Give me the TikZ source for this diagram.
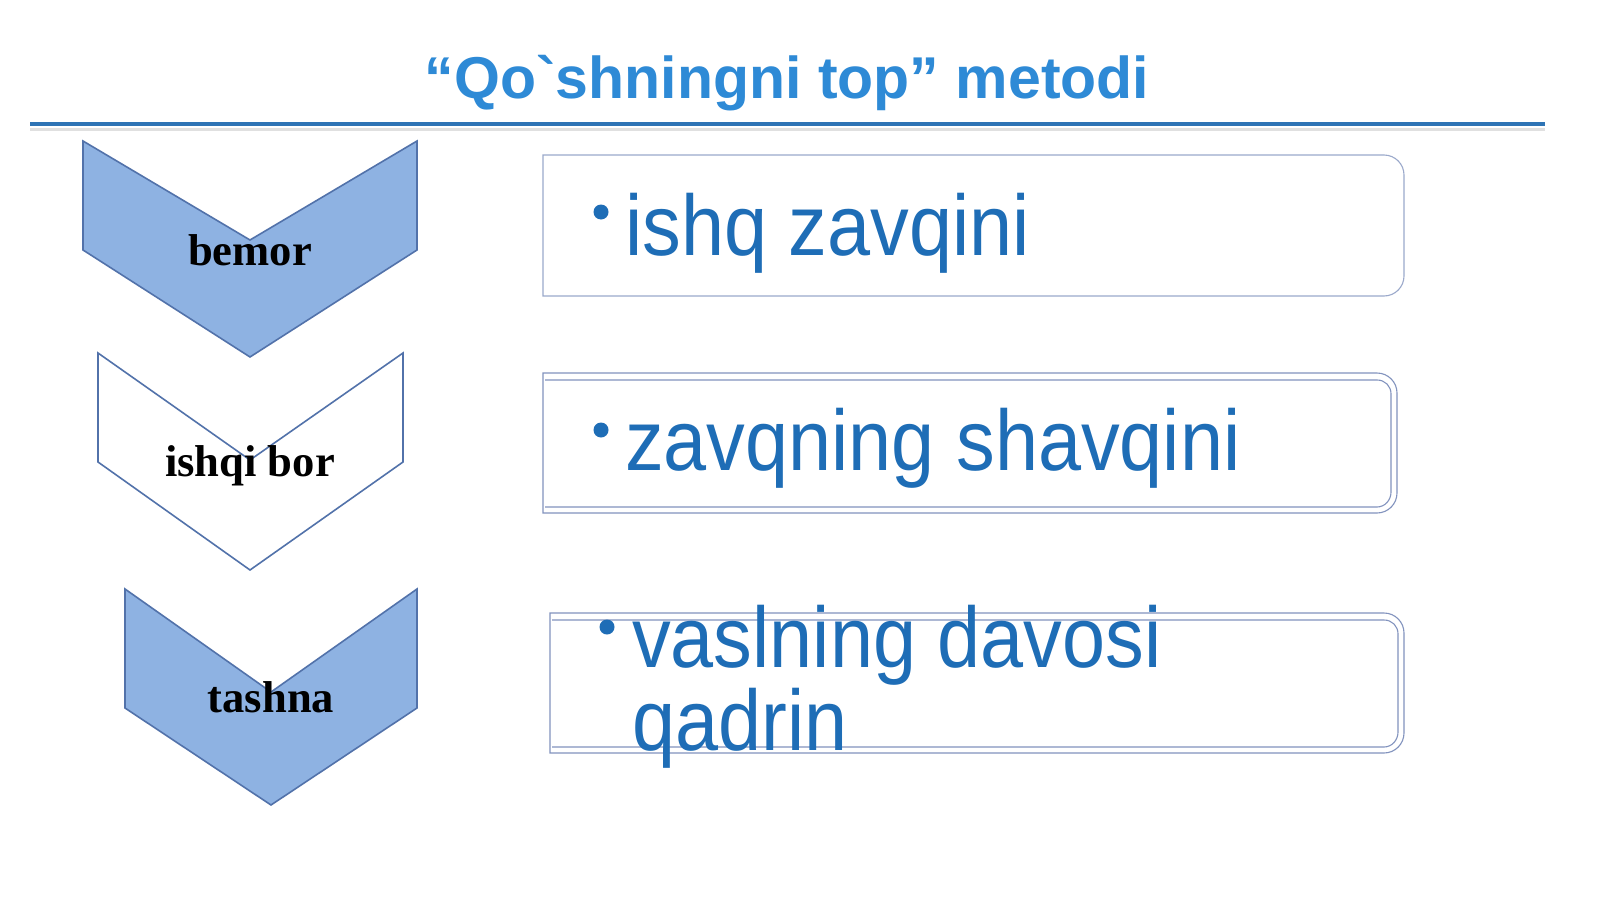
\documentclass[tikz,border=0pt]{standalone}
\usepackage{fontspec}
\setmainfont{Liberation Serif}
\newfontfamily\titlefont{Liberation Sans}
\newfontfamily\boxfont[FakeStretch=0.9]{Liberation Sans}
\definecolor{titleblue}{HTML}{2E8AD6}
\definecolor{rulecol}{HTML}{2E74B5}
\definecolor{chevfill}{HTML}{8EB2E2}
\definecolor{chevline}{HTML}{5272AA}
\definecolor{boxline}{HTML}{8293BE}
\definecolor{boxtext}{HTML}{1E6DB6}
\begin{document}
\begin{tikzpicture}[x=1pt,y=-1pt,
  chevfilled/.style={fill=chevfill,draw=chevline,line width=1.6pt,line join=miter},
  chevempty/.style={fill=white,draw=chevline,line width=1.6pt,line join=miter},
  chevlabel/.style={font=\fontsize{44.6}{50}\selectfont\bfseries,text=black,anchor=base,inner sep=0pt},
  boxframe/.style={draw=boxline,line width=1.1pt},
  boxlabel/.style={font=\boxfont\fontsize{86}{83}\selectfont,text=boxtext,anchor=base west,inner sep=0pt},
  bulletdot/.style={circle,fill=boxtext,minimum size=15pt,inner sep=0pt}]
\useasboundingbox (0,0) rectangle (1600,899);
\fill[white] (0,0) rectangle (1600,899);
% title
\node[font=\titlefont\fontsize{59}{65}\selectfont\bfseries,text=titleblue,anchor=base,inner sep=0pt] (title) at (787,98) {“Qo`shningni top” metodi};
\coordinate (ruleL) at (30,124);
\coordinate (ruleR) at (1545,124);
\draw[black!12,line width=3pt] ([yshift=-5pt]ruleL) -- ([yshift=-5pt]ruleR);
\draw[rulecol,line width=4pt] (ruleL) -- (ruleR);
% chevrons
\draw[chevfilled] (83,141) -- (250,240) -- (417,141) -- (417,250) -- (250,357) -- (83,250) -- cycle;
\draw[chevempty] (98,353) -- (250,460) -- (403,353) -- (403,462) -- (250,570) -- (98,462) -- cycle;
\draw[chevfilled] (125,589) -- (271,692) -- (417,589) -- (417,708) -- (271,805) -- (125,708) -- cycle;
\node[chevlabel] (c1) at (250,265) {bemor};
\node[chevlabel] (c2) at (250,476) {ishqi bor};
\node[chevlabel] (c3) at (271,712) {tashna};
% box 1
\draw[boxframe,draw=boxline!80] (543,155) -- (1384,155) .. controls (1395,155) and (1404,164) .. (1404,175) -- (1404,276) .. controls (1404,287) and (1395,296) .. (1384,296) -- (543,296) -- cycle;
% box 2
\draw[boxframe] (543,373) -- (1377,373) .. controls (1388,373) and (1397,382) .. (1397,393) -- (1397,493) .. controls (1397,504) and (1388,513) .. (1377,513) -- (543,513) -- cycle;
\draw[boxframe] (545,380) -- (1377,380) .. controls (1385,380) and (1391,386) .. (1391,394) -- (1391,492) .. controls (1391,500) and (1385,507) .. (1377,507) -- (545,507);
% box 3
\draw[boxframe] (550,613) -- (1384,613) .. controls (1395,613) and (1404,622) .. (1404,633) -- (1404,733) .. controls (1404,744) and (1395,753) .. (1384,753) -- (550,753) -- cycle;
\draw[boxframe] (552,620) -- (1384,620) .. controls (1392,620) and (1398,626) .. (1398,634) -- (1398,732) .. controls (1398,740) and (1392,747) .. (1384,747) -- (552,747);
% box texts
\node[bulletdot] (d1) at (601,212) {};
\node[boxlabel] (t1) at (625,255) {ishq zavqini};
\node[bulletdot] (d2) at (601,430) {};
\node[boxlabel] (t2) at (625,470) {zavqning shavqini};
\node[bulletdot] (d3) at (607,627) {};
\node[boxlabel] (t3a) at (632,667) {vaslning davosi};
\node[boxlabel] (t3b) at (632,750) {qadrin};
\end{tikzpicture}
\end{document}
